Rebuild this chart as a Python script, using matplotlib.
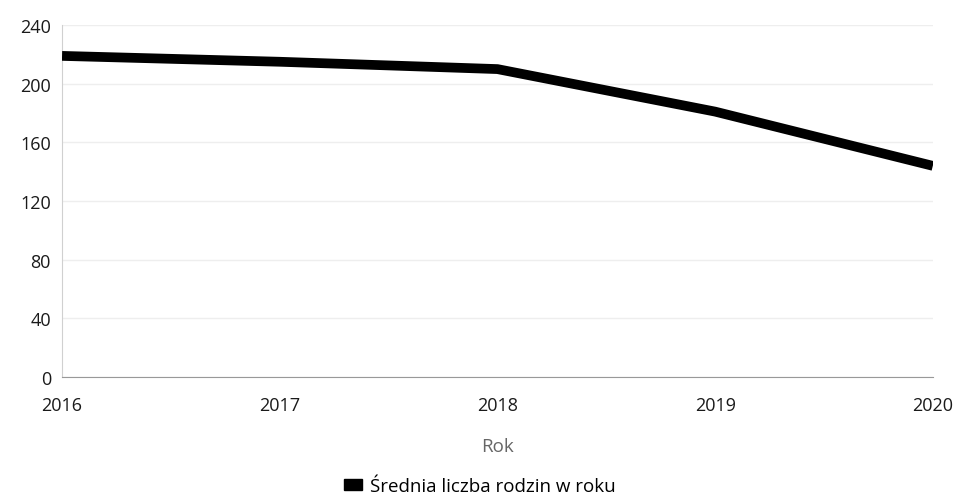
import matplotlib.pyplot as plt
from matplotlib.patches import Patch

# Data
years = [2016, 2017, 2018, 2019, 2020]
values = [219, 215, 210, 181, 144]
y_ticks = [0, 40, 80, 120, 160, 200, 240]

plt.rcParams['font.family'] = ['Open Sans', 'DejaVu Sans']

fig = plt.figure(figsize=(9.59, 5.02), dpi=100)
ax = fig.add_axes([0.0647, 0.247, 0.908, 0.701])

ax.plot(years, values, color='black', linewidth=7, solid_capstyle='butt', zorder=3)

ax.set_xlim(2016, 2020)
ax.set_ylim(0, 240)
ax.set_xticks(years)
ax.set_yticks(y_ticks)
ax.tick_params(length=0, labelsize=13, colors='#1a1a1a')
ax.tick_params(axis='x', pad=14)
ax.tick_params(axis='y', pad=8)
ax.grid(axis='y', color='#eeeeee', linewidth=1)
ax.set_axisbelow(True)

for side in ['top', 'right']:
    ax.spines[side].set_visible(False)
ax.spines['left'].set_color('#d0d0d0')
ax.spines['bottom'].set_color('#999999')

ax.set_xlabel('Rok', fontsize=13.5, color='#666666', labelpad=16)

handle = Patch(facecolor='black', edgecolor='black')
fig.legend([handle], ['Średnia liczba rodzin w roku'], loc='lower center',
           bbox_to_anchor=(0.5, -0.022), frameon=False, fontsize=13.5,
           handlelength=1.0, handleheight=0.5, handletextpad=0.4)

plt.savefig('out.png')
plt.close()
